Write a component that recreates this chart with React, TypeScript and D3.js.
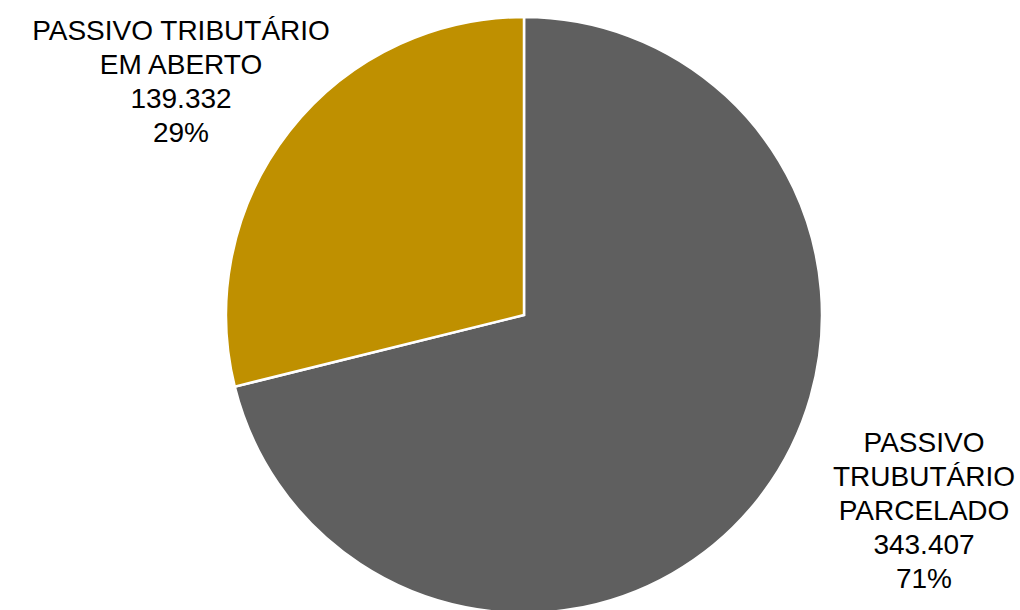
import React from "react";
import * as d3 from "d3";

const categories = ["PASSIVO TRUBUTÁRIO PARCELADO", "PASSIVO TRIBUTÁRIO EM ABERTO"];
const values = [343407, 139332];
const labelLines = [
  ["PASSIVO", "TRUBUTÁRIO", "PARCELADO"],
  ["PASSIVO TRIBUTÁRIO", "EM ABERTO"],
];
const colors = ["#5f5f5f", "#bf9000"];

const W = 1020;
const H = 610;
const CX = 524;
const CY = 315;
const R = 298;
const FONT = 28;
const LINE = 34;
// label anchor (center x, first baseline y)
const labelPos = [
  [924, 451.5],
  [181, 39.5],
];

const locale = d3.formatLocale({ decimal: ",", thousands: ".", grouping: [3], currency: ["R$", ""] });
const fmtVal = locale.format(",d");
const fmtPct = d3.format(".0%");

export default function App() {
  const total = d3.sum(values);
  const pie = d3.pie<number>().sort(null).value((d) => d);
  const arcs = pie(values);
  const arc = d3.arc<d3.PieArcDatum<number>>().innerRadius(0).outerRadius(R);

  return (
    <svg
      width={W}
      height={H}
      style={{ position: "fixed", left: 0, top: 0, background: "#fff" }}
      fontFamily="'Liberation Sans', Arial, sans-serif"
    >
      <g transform={`translate(${CX},${CY})`}>
        {arcs.map((a, i) => (
          <path key={categories[i]} d={arc(a) || ""} fill={colors[i]} stroke="#fff" strokeWidth={2.5} strokeLinejoin="miter" />
        ))}
      </g>
      {arcs.map((a, i) => {
        const lines = [...labelLines[i], fmtVal(values[i]), fmtPct(values[i] / total)];
        const [x, y] = labelPos[i];
        return (
          <text key={"l" + i} x={x} y={y} textAnchor="middle" fontSize={FONT} fill="#000">
            {lines.map((t, j) => (
              <tspan key={j} x={x} y={y + j * LINE}>
                {t}
              </tspan>
            ))}
          </text>
        );
      })}
    </svg>
  );
}
